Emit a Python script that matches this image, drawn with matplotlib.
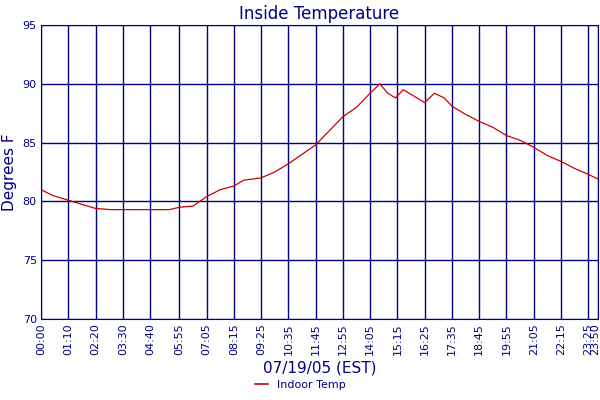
import matplotlib
matplotlib.use("Agg")
import matplotlib.pyplot as plt
import matplotlib.transforms as mtransforms
from matplotlib.lines import Line2D

# time in "HH:MM", indoor temperature in deg F
times = ["00:00", "00:30", "01:10", "01:40", "02:20", "03:00", "03:30", "04:00",
         "04:40", "05:30", "05:55", "06:30", "07:05", "07:40", "08:15", "08:40",
         "09:25", "10:00", "10:35", "11:10", "11:45", "12:20", "12:55", "13:30",
         "14:05", "14:30", "14:50", "15:10", "15:30", "15:55", "16:25", "16:50",
         "17:15", "17:35", "18:10", "18:45", "19:20", "19:55", "20:30", "21:05",
         "21:40", "22:15", "22:50", "23:25", "23:50"]
temps = [81.0, 80.5, 80.1, 79.8, 79.4, 79.3, 79.3, 79.3,
         79.3, 79.3, 79.5, 79.6, 80.4, 81.0, 81.3, 81.8,
         82.0, 82.5, 83.2, 84.0, 84.8, 86.0, 87.2, 88.0,
         89.2, 90.0, 89.2, 88.8, 89.5, 89.0, 88.4, 89.2,
         88.8, 88.1, 87.4, 86.8, 86.3, 85.6, 85.2, 84.6,
         83.9, 83.4, 82.8, 82.3, 81.9]
tick_labels = ["00:00", "01:10", "02:20", "03:30", "04:40", "05:55", "07:05",
               "08:15", "09:25", "10:35", "11:45", "12:55", "14:05", "15:15",
               "16:25", "17:35", "18:45", "19:55", "21:05", "22:15", "23:25", "23:50"]


def minutes(s):
    h, m = s.split(":")
    return int(h) * 60 + int(m)


navy = "#000080"
fig = plt.figure(figsize=(6, 4), dpi=100)
ax = fig.add_axes([41 / 600, 81 / 400, 557 / 600, 294 / 400])
ax.plot([minutes(t) for t in times], temps, color="#cc0000", lw=0.9)
ax.set_xlim(0, 1430)
ax.set_ylim(70, 95)
ax.set_yticks([70, 75, 80, 85, 90, 95])
ax.set_xticks([minutes(t) for t in tick_labels])
ax.set_xticklabels(tick_labels, rotation=90)
ax.tick_params(colors=navy, labelsize=8, length=0, pad=3)
ax.grid(True, color=navy, lw=1)
for s in ax.spines.values():
    s.set_color(navy)

# keep the last label inside the figure
last = ax.get_xticklabels()[-1]
last.set_transform(last.get_transform() +
                   mtransforms.ScaledTranslation(-3 / 100, 0, fig.dpi_scale_trans))

ax.set_title("Inside Temperature", color=navy, fontsize=12, pad=4)
ax.set_xlabel("07/19/05 (EST)", color=navy, fontsize=11, labelpad=4)
ax.set_ylabel("Degrees F", color=navy, fontsize=11, labelpad=4)
fig.legend(handles=[Line2D([], [], color="#cc0000", lw=1.2, label="Indoor Temp")],
           loc="lower center", bbox_to_anchor=(0.5, 0.0), frameon=False,
           fontsize=8, labelcolor=navy, handlelength=1.2)
fig.savefig("out.png", dpi=100)
